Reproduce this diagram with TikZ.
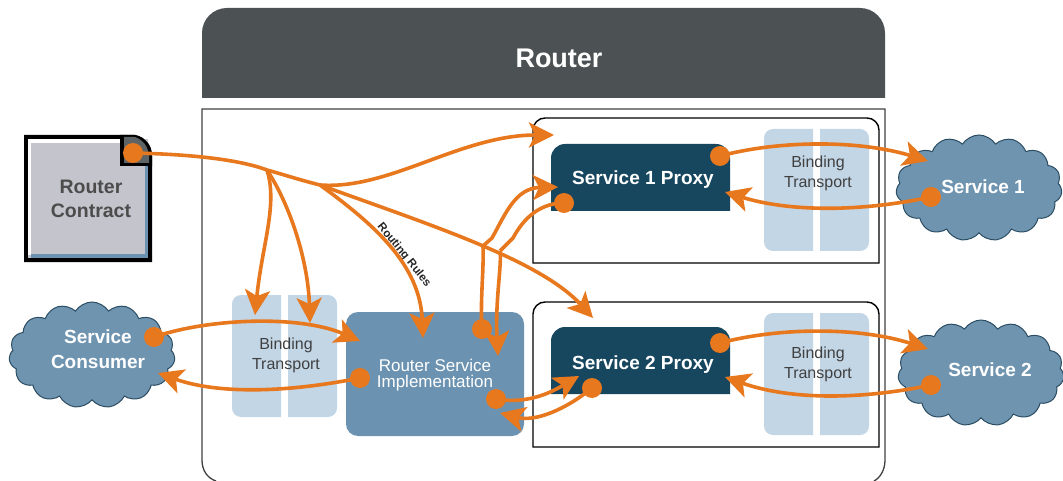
\documentclass[tikz,border=0pt]{standalone}
\usepackage{fontspec}
\setmainfont{Liberation Sans}
\usetikzlibrary{arrows.meta, shapes.symbols}
\definecolor{flow}{HTML}{E8781E}
\definecolor{headgray}{HTML}{4C5254}
\definecolor{proxyblue}{HTML}{17465F}
\definecolor{implblue}{HTML}{6B93B1}
\definecolor{cloudblue}{HTML}{6F94B0}
\definecolor{cloudline}{HTML}{2B4D63}
\definecolor{bindblue}{HTML}{C3D6E6}
\definecolor{papergray}{HTML}{C4C4CC}
\newcommand{\fs}[1]{\fontsize{#1}{#1}\selectfont}
\tikzset{
  flowline/.style={draw=flow, line width=3.6pt, -{Stealth[length=25pt,width=25pt,inset=6pt]}},
  flowplain/.style={draw=flow, line width=3.6pt},
  flowdot/.style={circle, fill=flow, inner sep=0pt, minimum size=20pt},
  cloudbox/.style={cloud, cloud puffs=15, cloud puff arc=115, aspect=1.6, draw=cloudline, line width=1pt, fill=cloudblue, inner sep=0pt, minimum width=166pt, minimum height=106pt},
  whitetext/.style={text=white, font=\bfseries\fs{19}, align=center},
  bindtext/.style={text=black!75, font=\fs{16}, align=center}
}
\begin{document}
\begin{tikzpicture}[x=1pt, y=-1pt]
\useasboundingbox (0,0) rectangle (1063,481);
% frames
\fill[headgray, rounded corners=25pt] (202,98) [sharp corners] -- (202,60) [rounded corners=25pt] -- (202,8) -- (885,8) -- (885,60) [sharp corners] -- (885,98) -- cycle;
\draw[black!75, line width=1.3pt] (216,481) .. controls (207,478) and (202,470) .. (202,460) -- (202,109) -- (885,109) -- (885,460) .. controls (885,470) and (880,478) .. (874,481);
\foreach \y in {118,302} {
  \draw[black, line width=1.4pt, fill=white] (533,\y+145) [rounded corners=12pt] -- (533,\y) -- (879,\y) [sharp corners] -- (879,\y+145) -- cycle;
}
% binding columns
\foreach \x/\y in {232/295, 764/129, 764/313} {
  \fill[bindblue] (\x+49,\y) [rounded corners=9pt] -- (\x,\y) -- (\x,\y+122) [sharp corners] -- (\x+49,\y+122) -- cycle;
  \fill[bindblue] (\x+56,\y) [rounded corners=9pt] -- (\x+105,\y) -- (\x+105,\y+122) [sharp corners] -- (\x+56,\y+122) -- cycle;
}
\node[bindtext] (bindconsumer) at (286,355) {Binding\\[4pt]Transport};
\node[bindtext] (bindone) at (818,173) {Binding\\[4pt]Transport};
\node[bindtext] (bindtwo) at (818,364) {Binding\\[4pt]Transport};
% proxies and implementation
\foreach \y in {144,327} {
  \fill[proxyblue] (551,\y+67) [rounded corners=14pt] -- (551,\y) -- (730,\y) [sharp corners] -- (730,\y+67) -- cycle;
}
\node[whitetext] (proxyone) at (643,180) {Service 1 Proxy};
\node[whitetext] (proxytwo) at (643,365) {Service 2 Proxy};
\fill[implblue, rounded corners=12pt] (346,312) rectangle (524,436);
\node[whitetext, font=\fs{17}] (impl) at (435,375) {Router Service\\[-1pt]Implementation};
\node[text=white, font=\bfseries\fs{27}] (router) at (559,58) {Router};
% contract
\fill[black] (24,135) -- (135,135) .. controls (145,137) and (152,145) .. (152,156) -- (152,262) -- (24,262) -- cycle;
\fill[papergray] (28,139) rectangle (148,258);
\fill[white] (28,139) rectangle (121,143);
\fill[white] (28,139) rectangle (31,255);
\fill[implblue] (145,165) rectangle (148,258);
\fill[implblue] (31,254) rectangle (148,258);
\fill[black] (120,135) -- (135,135) .. controls (145,137) and (152,145) .. (152,156) -- (152,166) -- (120,166) -- cycle;
\fill[headgray!90!white] (124,137) -- (135,137) .. controls (143,140) and (148,146) .. (149,156) -- (149,163) -- (124,163) -- cycle;
\node[text=black!70, font=\bfseries\fs{19.5}, align=center] (contract) at (91,199) {Router\\[5pt]Contract};
% clouds
\node[cloudbox] (consumer) at (92,355) {};
\node[cloudbox] (serviceone) at (979,188) {};
\node[cloudbox] (servicetwo) at (981,373) {};
\node[whitetext] (consumertext) at (98,349) {Service\\[6pt]Consumer};
\node[whitetext] (serviceonetext) at (983,187) {Service 1};
\node[whitetext] (servicetwotext) at (990,370) {Service 2};
% rotated label
\node[rotate=-51, font=\bfseries\fs{11.5}, text=black!85] (rules) at (404,255) {Routing Rules};
% dots and ends of the flows
\foreach \name/\px/\py in {dcontract/133/153, dconsumer/154/337, dimplback/360/378, dimplone/482/329, dimpltwo/496/399, dproxyone/564/203, dproxytwo/592/388, dproxyonefw/720/156, dproxytwofw/720/343, dcloudone/931/197, dcloudtwo/931/385} {
  \node[flowdot] (\name) at (\px,\py) {};
}
\foreach \name/\px/\py in {fleft/267/170, fright/320/185, tleft/255/315, tmid/310/323, trules/423/338, tone/554/135, ttwo/593/318, tproxyone/558/187, timplup/498/356, timpl/360/341, tconsumer/158/373, tproxytwo/579/376, timplback/500/413, tcloudone/928/161, tcloudtwo/928/349, tbackone/725/192, tbacktwo/725/377, kinka/483/246, kinkb/500/251} {
  \coordinate (\name) at (\px,\py);
}
% flows from the contract
\draw[flowplain] (dcontract.center) .. controls (180,154) and (235,158) .. (fleft) .. controls (285,175) and (300,180) .. (fright);
\draw[flowline] (fleft) .. controls (278,205) and (262,245) .. (tleft);
\draw[flowline] (fleft) .. controls (290,205) and (308,260) .. (tmid);
\draw[flowline] (fright) .. controls (390,190) and (460,135) .. (tone);
\draw[flowline] (fright) .. controls (430,225) and (540,260) .. (ttwo);
\draw[flowline] (fright) .. controls (375,225) and (420,265) .. (trules);
% flows around the implementation
\draw[flowline] (dconsumer.center) .. controls (210,318) and (300,315) .. (timpl);
\draw[flowline] (dimplback.center) .. controls (290,392) and (220,395) .. (tconsumer);
\draw[flowplain] (dimplone.center) .. controls (480,300) and (484,270) .. (kinka);
\draw[flowline] (kinka) -- (492,238) .. controls (505,215) and (515,188) .. (tproxyone);
\draw[flowplain] (dproxyone.center) .. controls (535,203) and (520,225) .. (513,238) -- (kinkb);
\draw[flowline] (kinkb) .. controls (502,265) and (495,300) .. (timplup);
\draw[flowline] (dimpltwo.center) .. controls (530,405) and (555,390) .. (tproxytwo);
\draw[flowline] (dproxytwo.center) .. controls (565,410) and (535,422) .. (timplback);
% flows to the services
\draw[flowline] (dproxyonefw.center) .. controls (780,140) and (860,140) .. (tcloudone);
\draw[flowline] (dcloudone.center) .. controls (860,212) and (790,212) .. (tbackone);
\draw[flowline] (dproxytwofw.center) .. controls (780,327) and (860,327) .. (tcloudtwo);
\draw[flowline] (dcloudtwo.center) .. controls (860,400) and (790,400) .. (tbacktwo);
\end{tikzpicture}
\end{document}
